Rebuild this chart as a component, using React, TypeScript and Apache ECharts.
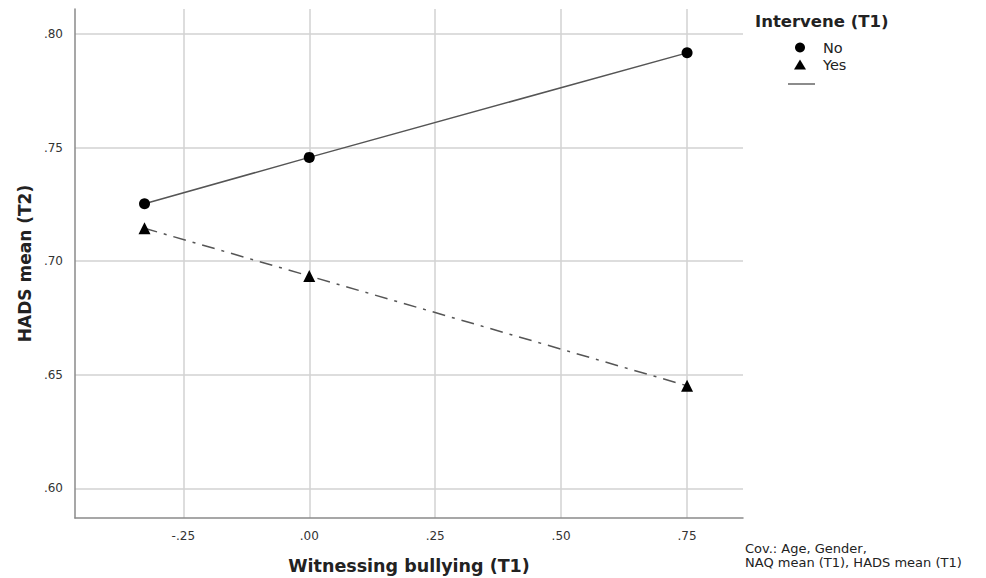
import React, { useEffect, useRef } from "react";
import * as echarts from "echarts";

const xValues = [-0.327, 0.0, 0.75];
const noValues = [0.7253, 0.7457, 0.7917];
const yesValues = [0.7145, 0.6935, 0.6452];
const xTicks = [-0.25, 0, 0.25, 0.5, 0.75];
const yTicks = [0.6, 0.65, 0.7, 0.75, 0.8];
const seriesNames = ["No", "Yes"];

const fmt = (v: number) => v.toFixed(2).replace(/^(-?)0\./, "$1.");

export default function App() {
  const ref = useRef<HTMLDivElement>(null);
  useEffect(() => {
    if (!ref.current) return;
    const chart = echarts.init(ref.current, null, { renderer: "svg" });
    const font = "'DejaVu Sans', 'Liberation Sans', Arial, sans-serif";
    chart.setOption({
      animation: false,
      backgroundColor: "#ffffff",
      grid: { left: 67, top: 1, right: 243, bottom: 60, outerBoundsMode: "none", containLabel: false },
      xAxis: {
        type: "value",
        min: -0.465,
        max: 0.861,
        name: "Witnessing bullying (T1)",
        nameLocation: "middle",
        nameGap: 39,
        nameTextStyle: { fontFamily: font, fontWeight: "bold", fontSize: 17.5, color: "#222" },
        axisLine: { show: true, onZero: false, lineStyle: { color: "#8a8a8a", width: 1.5 } },
        axisTick: { show: false, customValues: xTicks },
        axisLabel: {
          customValues: xTicks,
          formatter: (v: number) => fmt(v),
          fontFamily: font,
          fontSize: 12,
          color: "#333",
          margin: 12,
        },
        splitLine: { show: true, lineStyle: { color: "#d2d2d2", width: 1.5 } },
      },
      yAxis: {
        type: "value",
        min: 0.587,
        max: 0.811,
        name: "HADS mean (T2)",
        nameLocation: "middle",
        nameGap: 37,
        nameTextStyle: { fontFamily: font, fontWeight: "bold", fontSize: 17, color: "#222" },
        axisLine: { show: true, onZero: false, lineStyle: { color: "#8a8a8a", width: 1.5 } },
        axisTick: { show: false, customValues: yTicks },
        axisLabel: {
          customValues: yTicks,
          formatter: (v: number) => fmt(v),
          fontFamily: font,
          fontSize: 12,
          color: "#333",
          margin: 12,
        },
        splitLine: { show: true, lineStyle: { color: "#d2d2d2", width: 1.5 } },
      },
      legend: {
        orient: "vertical",
        left: 786,
        top: 32,
        padding: 0,
        itemWidth: 12,
        itemHeight: 10,
        itemGap: 2,
        data: [
          { name: seriesNames[0], icon: "circle" },
          { name: seriesNames[1], icon: "triangle" },
        ],
        textStyle: { fontFamily: font, fontSize: 14.5, lineHeight: 15, color: "#222", padding: [0, 0, 0, 12] },
      },
      graphic: [
        {
          type: "text",
          left: 747,
          top: 5,
          style: { text: "Intervene (T1)", font: "bold 16.5px 'DejaVu Sans', Arial, sans-serif", fill: "#222" },
        },
        {
          type: "line",
          shape: { x1: 780, y1: 76, x2: 807, y2: 76 },
          style: { stroke: "#666", lineWidth: 1.5 },
        },
        {
          type: "text",
          left: 737,
          top: 533,
          style: {
            text: "Cov.: Age, Gender,\nNAQ mean (T1), HADS mean (T1)",
            font: "13px 'DejaVu Sans', Arial, sans-serif",
            lineHeight: 14,
            fill: "#222",
          },
        },
      ],
      series: [
        {
          name: seriesNames[0],
          type: "line",
          data: xValues.map((x, i) => [x, noValues[i]]),
          symbol: "circle",
          symbolSize: 11,
          itemStyle: { color: "#000" },
          lineStyle: { color: "#555", width: 1.5, type: "solid" },
        },
        {
          name: seriesNames[1],
          type: "line",
          data: xValues.map((x, i) => [x, yesValues[i]]),
          symbol: "triangle",
          symbolSize: 12,
          itemStyle: { color: "#000" },
          lineStyle: { color: "#555", width: 1.5, type: [13, 7, 3, 7] },
        },
      ],
    });
    return () => chart.dispose();
  }, []);
  return <div ref={ref} style={{ width: 978, height: 570 }} />;
}
